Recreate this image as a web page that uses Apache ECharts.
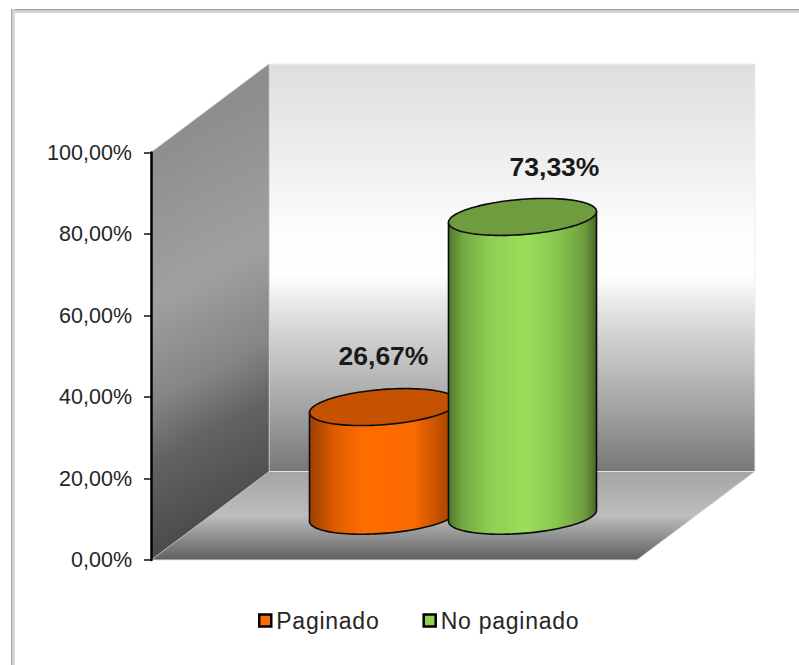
<!DOCTYPE html>
<html>
<head>
<meta charset="utf-8">
<style>
html,body{margin:0;padding:0;background:#fff}
#c{width:799px;height:665px}
text[style*="23px"]{letter-spacing:.75px}
</style>
<script src="https://cdn.jsdelivr.net/npm/echarts@6/dist/echarts.min.js"></script>
</head>
<body>
<div id="c"></div>
<script>
const categories = [''];
const seriesNames = ['Paginado', 'No paginado'];
const paginado = [26.67];
const noPaginado = [73.33];
const valueLabels = ['26,67%', '73,33%'];
const tickLabels = ['0,00%', '20,00%', '40,00%', '60,00%', '80,00%', '100,00%'];

const G = echarts.graphic;
const chart = echarts.init(document.getElementById('c'), null, {renderer: 'svg'});

const DEPTH_X = 118, DEPTH_Y = -88.5;
const grad = (x, y, x2, y2, stops) => new G.LinearGradient(x, y, x2, y2,
  stops.map(s => ({offset: s[0], color: s[1]})), true);

function walls(params, api) {
  const cs = params.coordSys;
  const l = cs.x, r = cs.x + cs.width, t = cs.y, b = cs.y + cs.height;
  const bl = l + DEPTH_X, br = r + DEPTH_X, bt = t + DEPTH_Y, bb = b + DEPTH_Y;
  const edge = {stroke: '#e4e4e4', lineWidth: 1};
  return {type: 'group', children: [
    {type: 'polygon', shape: {points: [[bl, bt], [br, bt], [br, bb], [bl, bb]]},
      style: Object.assign({fill: grad(0, bt, 0, bb, [[0, '#dedede'], [.284, '#f2f2f2'], [.41, '#fdfdfd'], [.52, '#ffffff'], [.578, '#ebebeb'], [.65, '#d6d6d6'], [.855, '#a0a0a0'], [1, '#777777']])}, {stroke: '#ededed', lineWidth: 1})},
    {type: 'polygon', shape: {points: [[l, b], [r, b], [br, bb], [bl, bb]]},
      style: Object.assign({fill: grad(0, bb, 0, b, [[0, '#a5a5a5'], [.5, '#bdbdbd'], [.62, '#a6a6a6'], [1, '#5f5f5f']])}, edge)},
    {type: 'polygon', shape: {points: [[l, t], [bl, bt], [bl, bb], [l, b]]},
      style: {fill: grad(l, t, l + 171, t + 316, [[0, '#8e8e8e'], [.37, '#a0a0a0'], [.615, '#858585'], [.76, '#636363'], [1, '#4a4a4a']]), stroke: '#b8b8b8', lineWidth: .6}}
  ]};
}

const A = 74, TILT = 5.5, MINOR = 17.66;
const rim = (cx, cy, t) => [cx + A * Math.cos(t), cy - TILT * Math.cos(t) + MINOR * Math.sin(t)];

function cylinder(index, offset, labelDx, labelDy, body, top) {
  return function (params, api) {
    const base = api.coord([api.value(0), 0]);
    const head = api.coord([api.value(0), api.value(1)]);
    const cx = base[0] + DEPTH_X / 2 + offset;
    const by = base[1] + DEPTH_Y / 2;
    const ty = head[1] + DEPTH_Y / 2;
    const bodyPts = [], topPts = [];
    for (let i = 0; i <= 60; i++) bodyPts.push(rim(cx, by, Math.PI * (1 - i / 60)));
    bodyPts.push(rim(cx, ty, 0), rim(cx, ty, Math.PI));
    for (let i = 0; i < 120; i++) topPts.push(rim(cx, ty, Math.PI * 2 * i / 120));
    return {type: 'group', children: [
      {type: 'polygon', shape: {points: bodyPts}, style: {
        fill: new G.LinearGradient(0, 0, 1, 0, body.map(s => ({offset: s[0], color: s[1]}))),
        stroke: '#0c0c0c', lineWidth: 1.6, lineJoin: 'round'}},
      {type: 'polygon', shape: {points: topPts}, style: {fill: top, stroke: '#0c0c0c', lineWidth: 1.6}},
      {type: 'text', style: {x: cx + labelDx, y: ty + labelDy, text: valueLabels[index], align: 'center', verticalAlign: 'middle',
        font: 'bold 26.5px "Liberation Sans"', fill: '#1a1a1a'}}
    ]};
  };
}

const orangeBody = [[0, '#9c3f00'], [.17, '#e05c00'], [.37, '#ff6d00'], [.7, '#fb6a00'], [.93, '#b04800'], [1, '#8c3800']];
const greenBody = [[0, '#4f7a2c'], [.1, '#74a843'], [.28, '#8ccf52'], [.51, '#9bde5a'], [.73, '#88c84f'], [.92, '#6f9c3e'], [1, '#47662a']];

chart.setOption({
  animation: false,
  backgroundColor: '#ffffff',
  grid: {left: 151, top: 152.5, width: 486, height: 407.5, containLabel: false},
  xAxis: {type: 'category', data: categories, show: false},
  yAxis: {
    type: 'value', min: 0, max: 100, interval: 20, z: 6,
    axisLine: {show: true, lineStyle: {color: '#000', width: 2.5}},
    axisTick: {show: true, length: 7, lineStyle: {color: '#111', width: 1.5}},
    splitLine: {show: false},
    axisLabel: {margin: 19, fontFamily: 'Liberation Sans', fontSize: 21.5, color: '#262626',
      formatter: (v, i) => tickLabels[Math.round(v / 20)]}
  },
  legend: {
    left: 258, top: 609, padding: 0, itemWidth: 12, itemHeight: 12, itemGap: 49, icon: 'rect',
    textStyle: {fontFamily: 'Liberation Sans', fontSize: 23, color: '#262626'},
    data: [
      {name: seriesNames[0], itemStyle: {color: '#ff6d00', borderColor: '#000', borderWidth: 2.5}},
      {name: seriesNames[1], itemStyle: {color: '#92d050', borderColor: '#000', borderWidth: 2.5}}
    ]
  },
  graphic: [
    {type: 'rect', z: -1, silent: true, shape: {x: 12, y: 9, width: 800, height: 4}, style: {fill: '#d6d6d6'}},
    {type: 'rect', z: -1, silent: true, shape: {x: 11, y: 9, width: 800, height: 1.2}, style: {fill: '#a0a0a0'}},
    {type: 'rect', z: -1, silent: true, shape: {x: 11, y: 9, width: 4, height: 670}, style: {fill: '#d6d6d6'}},
    {type: 'rect', z: -1, silent: true, shape: {x: 11, y: 9, width: 1.2, height: 670}, style: {fill: '#a8a8a8'}}
  ],
  series: [
    {type: 'custom', name: 'walls', silent: true, z: 1, data: [[0]], renderItem: walls},
    {type: 'custom', name: seriesNames[0], z: 3, itemStyle: {color: '#ff6d00'}, data: paginado.map((v, i) => [i, v]),
      encode: {x: 0, y: 1}, renderItem: cylinder(0, -69.5, 0, -51, orangeBody, '#c45200')},
    {type: 'custom', name: seriesNames[1], z: 4, itemStyle: {color: '#92d050'}, data: noPaginado.map((v, i) => [i, v]),
      encode: {x: 0, y: 1}, renderItem: cylinder(1, 69.5, 32, -50, greenBody, '#6f9c3e')}
  ]
});
</script>
</body>
</html>
